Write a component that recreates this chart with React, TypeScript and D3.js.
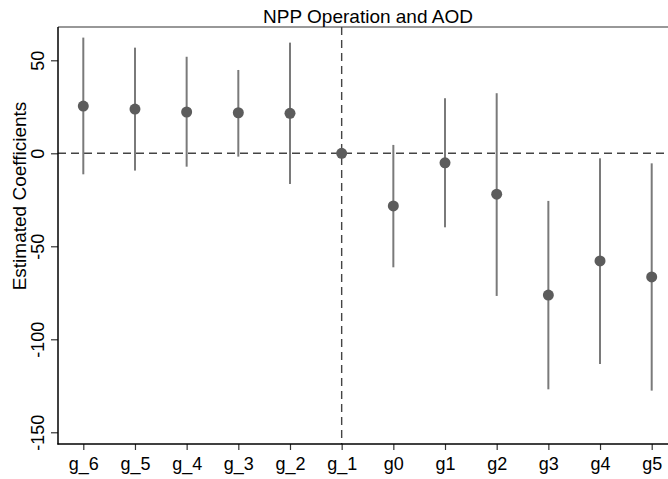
import React, { useEffect, useRef } from 'react';
import * as d3 from 'd3';

// coefficient plot
const groups = ['g_6', 'g_5', 'g_4', 'g_3', 'g_2', 'g_1', 'g0', 'g1', 'g2', 'g3', 'g4', 'g5'];
const estimates = [25.4, 23.8, 22.2, 21.8, 21.5, 0, -28.3, -5.1, -22.0, -76.2, -57.9, -66.5];
const ciLow = [-11.3, -9.3, -7.2, -1.8, -16.5, null, -61.3, -39.8, -76.7, -126.9, -113.3, -127.6];
const ciHigh = [62.2, 56.8, 51.9, 44.8, 59.5, null, 4.5, 29.6, 32.3, -25.6, -2.7, -5.4];
const yTicks = [50, 0, -50, -100, -150];

const App = () => {
  const ref = useRef<SVGSVGElement>(null);

  useEffect(() => {
    const width = 668;
    const height = 479;
    const left = 58;
    const top = 27;
    const right = 678;
    const bottom = 444;

    const svg = d3.select(ref.current);
    svg.selectAll('*').remove();

    const y = d3.scaleLinear().domain([-156.3, 67.9]).range([bottom, top]);
    const x = d3.scalePoint().domain(groups).range([83.3, 651.7]);

    const font = '"Liberation Sans", Arial, Helvetica, sans-serif';

    // frame line on top
    svg.append('line')
      .attr('x1', left).attr('x2', right)
      .attr('y1', top).attr('y2', top)
      .attr('stroke', '#333').attr('stroke-width', 1.2);

    // reference lines
    svg.append('line')
      .attr('x1', left).attr('x2', right)
      .attr('y1', y(0)).attr('y2', y(0))
      .attr('stroke', '#444').attr('stroke-width', 1.4)
      .attr('stroke-dasharray', '8,5');

    svg.append('line')
      .attr('x1', x('g_1')).attr('x2', x('g_1'))
      .attr('y1', top).attr('y2', bottom)
      .attr('stroke', '#444').attr('stroke-width', 1.4)
      .attr('stroke-dasharray', '8,5');

    const data = groups.map((g, i) => ({ g, est: estimates[i], lo: ciLow[i], hi: ciHigh[i] }));

    // confidence intervals
    svg.append('g').selectAll('line')
      .data(data.filter(d => d.lo !== null))
      .enter()
      .append('line')
      .attr('x1', d => x(d.g)).attr('x2', d => x(d.g))
      .attr('y1', d => y(d.lo as number)).attr('y2', d => y(d.hi as number))
      .attr('stroke', '#7a7a7a').attr('stroke-width', 2);

    // point estimates
    svg.append('g').selectAll('circle')
      .data(data)
      .enter()
      .append('circle')
      .attr('cx', d => x(d.g))
      .attr('cy', d => y(d.est))
      .attr('r', 5.5)
      .attr('fill', '#5c5c5c');

    // y axis, plain hyphen for the minus sign
    const yAxis = svg.append('g')
      .attr('transform', `translate(${left},0)`)
      .call(d3.axisLeft(y).tickValues(yTicks).tickFormat(d => String(d)).tickSize(7).tickSizeOuter(0));
    yAxis.select('.domain').remove();
    yAxis.selectAll('.tick line').attr('stroke', '#333').attr('stroke-width', 1.2);
    yAxis.selectAll('.tick text')
      .attr('transform', 'rotate(-90)')
      .attr('x', 0).attr('y', -14.5)
      .attr('dy', '0')
      .attr('text-anchor', 'middle')
      .style('font-family', font)
      .style('font-size', '18px')
      .attr('fill', '#000');
    svg.append('line')
      .attr('x1', left).attr('x2', left)
      .attr('y1', top).attr('y2', bottom + 0.6)
      .attr('stroke', '#000').attr('stroke-width', 1.5);

    // x axis
    const xAxis = svg.append('g')
      .attr('transform', `translate(0,${bottom})`)
      .call(d3.axisBottom(x).tickSize(6).tickSizeOuter(0));
    xAxis.select('.domain').remove();
    xAxis.selectAll('.tick line').attr('stroke', '#333').attr('stroke-width', 1.2);
    xAxis.selectAll('.tick text')
      .attr('y', 25.5)
      .attr('dy', '0')
      .style('font-family', font)
      .style('font-size', '18px')
      .attr('fill', '#000');
    svg.append('line')
      .attr('x1', left - 0.6).attr('x2', right)
      .attr('y1', bottom).attr('y2', bottom)
      .attr('stroke', '#000').attr('stroke-width', 1.5);

    // labels
    svg.append('text')
      .attr('x', (left + right) / 2).attr('y', 22.5)
      .attr('text-anchor', 'middle')
      .style('font-family', font)
      .style('font-size', '19px')
      .text('NPP Operation and AOD');

    svg.append('text')
      .attr('transform', 'translate(25.5,196) rotate(-90)')
      .attr('text-anchor', 'middle')
      .style('font-family', font)
      .style('font-size', '19px')
      .text('Estimated Coefficients');

    svg.attr('width', width).attr('height', height);
  }, []);

  return (
    <svg ref={ref} style={{ position: 'absolute', left: 0, top: 0, background: '#fff' }} />
  );
};

export default App;
